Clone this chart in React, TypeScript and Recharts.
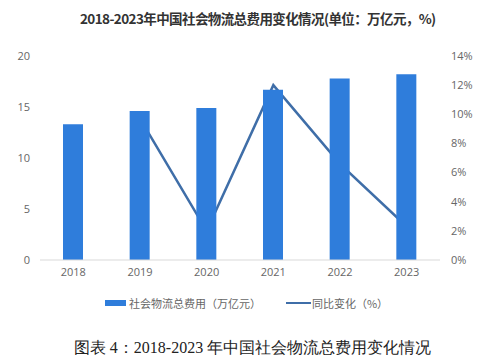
import { ComposedChart, Bar, Line, XAxis, YAxis, Legend } from 'recharts';

// 2018-2023 social logistics total cost (trillion yuan) and YoY change (%)
const years = ['2018', '2019', '2020', '2021', '2022', '2023'];
const costValues = [13.3, 14.6, 14.9, 16.7, 17.8, 18.2];
const yoyValues: (number | null)[] = [null, 9.7, 2.0, 12.0, 6.6, 2.3];
const leftTicks = [0, 5, 10, 15, 20];
const rightTicks = [0, 2, 4, 6, 8, 10, 12, 14];

const costName = '社会物流总费用（万亿元）';
const yoyName = '同比变化（%）';
const titleText = '2018-2023年中国社会物流总费用变化情况(单位：万亿元，%)';
const captionText = '图表 4：2018-2023 年中国社会物流总费用变化情况';

const BAR_COLOR = '#2f7ddb';
const LINE_COLOR = '#3f6ea8';
const TICK_COLOR = '#666666';

const chartData = years.map((year, i) => ({
    year,
    cost: costValues[i],
    yoy: yoyValues[i],
}));

function LegendContent() {
    const textStyle = { fontSize: 11, color: '#666', fontFamily: '"Noto Sans CJK SC", sans-serif' };
    return (
        <div style={{ display: 'flex', justifyContent: 'center', alignItems: 'center', height: 20, paddingLeft: 0 }}>
            <span style={{ display: 'inline-block', width: 21, height: 6, background: BAR_COLOR, marginRight: 3 }} />
            <span style={textStyle}>{costName}</span>
            <span style={{ display: 'inline-block', width: 25, height: 2, background: LINE_COLOR, marginLeft: 25, marginRight: 1 }} />
            <span style={textStyle}>{yoyName}</span>
        </div>
    );
}

export default function App() {
    const tickStyle = { fontSize: 11, fill: TICK_COLOR, fontFamily: '"Open Sans", sans-serif' };

    return (
        <div style={{ position: 'absolute', left: 0, top: 0, width: 493, height: 363, background: '#fff', overflow: 'hidden' }}>
            <div
                style={{
                    position: 'absolute',
                    left: 80,
                    top: 8,
                    whiteSpace: 'nowrap',
                    fontSize: 13.5,
                    fontWeight: 'bold',
                    color: '#333',
                    fontFamily: '"Noto Sans CJK SC", sans-serif',
                    letterSpacing: -0.6,
                }}
            >
                {titleText}
            </div>

            <ComposedChart
                width={493}
                height={363}
                data={chartData}
                margin={{ top: 56, right: 0, left: 0, bottom: 50 }}
            >
                <XAxis
                    dataKey="year"
                    height={33}
                    tickLine={false}
                    axisLine={{ stroke: '#d9d9d9' }}
                    tick={tickStyle}
                />
                <YAxis
                    yAxisId="left"
                    width={40}
                    domain={[0, 20]}
                    ticks={leftTicks}
                    tickLine={false}
                    axisLine={false}
                    tickMargin={4}
                    tick={tickStyle}
                />
                <YAxis
                    yAxisId="right"
                    orientation="right"
                    width={53}
                    domain={[0, 14]}
                    ticks={rightTicks}
                    tickFormatter={(v: number) => `${v}%`}
                    tickLine={false}
                    axisLine={false}
                    tickMargin={5}
                    tick={tickStyle}
                />
                <Legend verticalAlign="bottom" height={20} content={() => <LegendContent />} />
                <Line
                    yAxisId="right"
                    dataKey="yoy"
                    name={yoyName}
                    type="linear"
                    stroke={LINE_COLOR}
                    strokeWidth={2.5}
                    dot={false}
                    activeDot={false}
                    zIndex={250}
                    isAnimationActive={false}
                />
                <Bar
                    yAxisId="left"
                    dataKey="cost"
                    name={costName}
                    fill={BAR_COLOR}
                    barSize={20}
                    isAnimationActive={false}
                />
            </ComposedChart>

            <div
                style={{
                    position: 'absolute',
                    left: 0,
                    width: 505,
                    top: 338,
                    textAlign: 'center',
                    whiteSpace: 'nowrap',
                    fontSize: 16,
                    color: '#222',
                    fontFamily: 'serif',
                }}
            >
                {captionText}
            </div>
        </div>
    );
}
